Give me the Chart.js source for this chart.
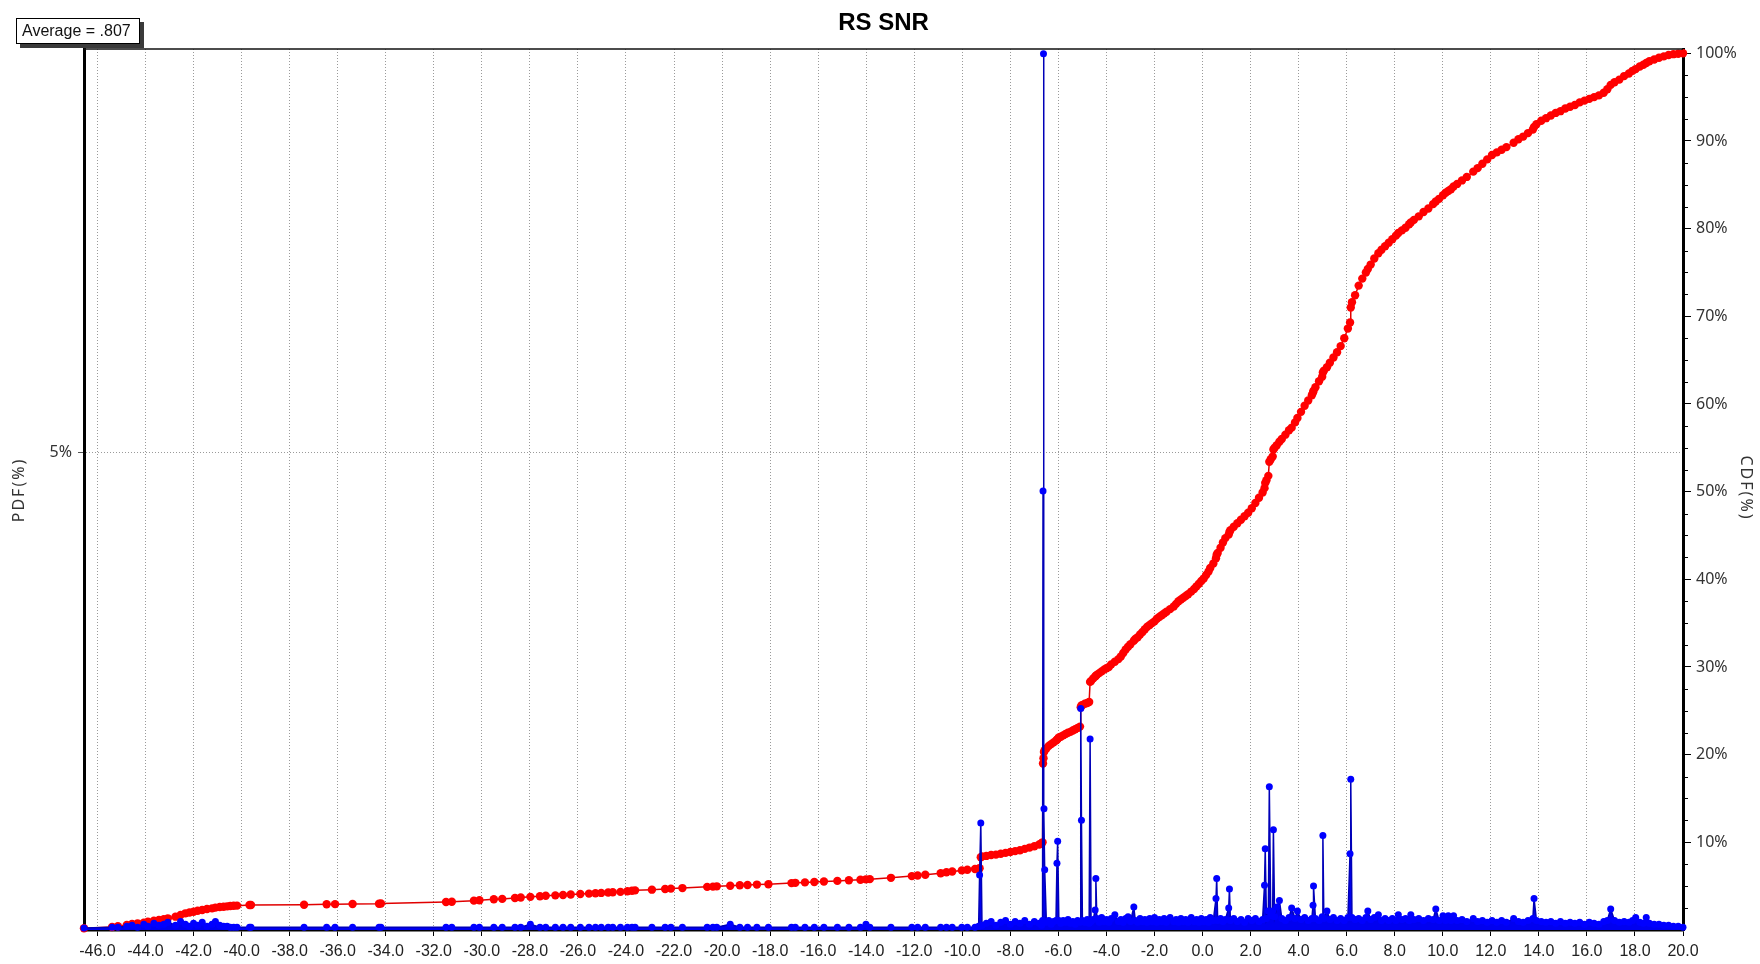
<!DOCTYPE html>
<html lang="en">
<head>
  <meta charset="UTF-8" />
  <title>RS SNR</title>
  <script src="https://cdn.jsdelivr.net/npm/chart.js"></script>
  <style>
    html, body { margin: 0; padding: 0; background: #fff; }
    canvas { display: block; }
  </style>
</head>
<body>
  <canvas id="snrChart" width="1760" height="964"></canvas>

  <script>
    // SNR bins (dB) with PDF and CDF in percent
    const snrDb = [
      -46.56, -45.39, -45.15, -44.78, -44.56, -44.33, -44.07, -43.9, -43.65, -43.44,
      -43.24, -43.07, -42.75, -42.54, -42.34, -42.17, -42.0, -41.83, -41.64, -41.44,
      -41.23, -41.09, -40.91, -40.75, -40.6, -40.47, -40.33, -40.19, -39.67, -39.61,
      -37.4, -36.46, -36.11, -35.38, -34.28, -34.2, -31.49, -31.25, -30.33, -30.1,
      -29.5, -29.15, -28.62, -28.38, -27.98, -27.58, -27.34, -26.94, -26.62, -26.3,
      -25.9, -25.54, -25.27, -25.03, -24.74, -24.55, -24.23, -23.94, -23.75, -23.62,
      -22.92, -22.37, -22.13, -21.65, -20.62, -20.38, -20.22, -19.66, -19.26, -18.94,
      -18.55, -18.07, -17.11, -16.95, -16.55, -16.16, -15.76, -15.2, -14.72, -14.24,
      -14.01, -13.85, -12.97, -12.1, -11.86, -11.54, -10.9, -10.66, -10.42, -10.02, -9.79,
      -9.47, -9.32, -9.28, -9.23, -9.18, -9.0, -8.8, -8.6, -8.4, -8.2,
      -8.0, -7.8, -7.6, -7.4, -7.2, -7.0, -6.8, -6.7, -6.66, -6.64,
      -6.62, -6.6, -6.57, -6.5, -6.4, -6.3, -6.2, -6.1, -6.06, -6.03,
      -5.98, -5.9, -5.8, -5.7, -5.6, -5.5, -5.4, -5.3, -5.2, -5.1,
      -5.07, -5.04, -5.0, -4.9, -4.8, -4.72, -4.68, -4.64, -4.55, -4.47,
      -4.44, -4.4, -4.3, -4.2, -4.1, -4.0, -3.9, -3.8, -3.65, -3.5,
      -3.4, -3.3, -3.2, -3.1, -3.0, -2.86, -2.8, -2.7, -2.6, -2.5,
      -2.4, -2.3, -2.2, -2.1, -2.0, -1.9, -1.8, -1.7, -1.6, -1.5,
      -1.35, -1.2, -1.1, -1.0, -0.9, -0.8, -0.7, -0.6, -0.47, -0.35,
      -0.25, -0.15, -0.05, 0.05, 0.15, 0.25, 0.32, 0.45, 0.56, 0.59,
      0.63, 0.75, 0.85, 0.95, 1.09, 1.12, 1.16, 1.3, 1.45, 1.6,
      1.75, 1.9, 2.05, 2.2, 2.35, 2.5, 2.58, 2.61, 2.66, 2.74,
      2.78, 2.84, 2.92, 2.95, 3.0, 3.09, 3.2, 3.3, 3.45, 3.6,
      3.71, 3.85, 3.95, 4.1, 4.25, 4.4, 4.55, 4.6, 4.62, 4.7,
      4.85, 4.98, 5.01, 5.05, 5.18, 5.3, 5.45, 5.6, 5.75, 5.9,
      6.05, 6.14, 6.17, 6.22, 6.35, 6.5, 6.65, 6.8, 6.88, 7.0,
      7.15, 7.32, 7.45, 7.6, 7.75, 7.9, 8.05, 8.15, 8.3, 8.45,
      8.6, 8.67, 8.8, 9.0, 9.2, 9.4, 9.6, 9.71, 9.85, 10.01,
      10.12, 10.23, 10.34, 10.45, 10.6, 10.8, 11.0, 11.27, 11.45, 11.65,
      11.85, 12.05, 12.25, 12.45, 12.65, 12.95, 13.15, 13.35, 13.55, 13.75,
      13.8, 13.9, 14.1, 14.3, 14.5, 14.7, 14.9, 15.1, 15.3, 15.5,
      15.7, 15.9, 16.1, 16.3, 16.5, 16.7, 16.85, 16.99, 17.15, 17.35,
      17.55, 17.75, 17.9, 18.03, 18.2, 18.35, 18.47, 18.6, 18.8, 19.0,
      19.2, 19.4, 19.6, 19.8, 20.0
    ];

    const pdfPct = [
      0.02, 0.03, 0.03, 0.04, 0.05, 0.03, 0.06, 0.04, 0.07, 0.05,
      0.06, 0.08, 0.05, 0.09, 0.06, 0.04, 0.07, 0.05, 0.08, 0.04,
      0.06, 0.09, 0.05, 0.04, 0.04, 0.03, 0.03, 0.03, 0.03, 0.03,
      0.03, 0.03, 0.03, 0.03, 0.03, 0.03, 0.03, 0.03, 0.03, 0.03,
      0.03, 0.03, 0.03, 0.03, 0.06, 0.03, 0.03, 0.03, 0.03, 0.03,
      0.03, 0.03, 0.03, 0.03, 0.03, 0.03, 0.03, 0.03, 0.03, 0.03,
      0.03, 0.03, 0.03, 0.03, 0.03, 0.03, 0.03, 0.06, 0.03, 0.03,
      0.03, 0.03, 0.03, 0.03, 0.03, 0.03, 0.03, 0.03, 0.03, 0.03,
      0.06, 0.03, 0.03, 0.03, 0.03, 0.03, 0.03, 0.03, 0.03, 0.03, 0.03,
      0.03, 0.04, 0.575, 1.12, 0.05, 0.07, 0.09, 0.05, 0.08, 0.1,
      0.06, 0.09, 0.07, 0.1, 0.06, 0.09, 0.07, 0.05, 0.1, 4.6,
      9.18, 1.27, 0.63, 0.08, 0.1, 0.06, 0.09, 0.1, 0.7, 0.93,
      0.1, 0.07, 0.1, 0.08, 0.11, 0.07, 0.09, 0.06, 0.1, 0.08,
      2.32, 1.15, 0.1, 0.08, 0.11, 0.07, 2.0, 0.09, 0.11, 0.21,
      0.54, 0.12, 0.08, 0.13, 0.09, 0.11, 0.08, 0.12, 0.16, 0.09,
      0.11, 0.08, 0.12, 0.14, 0.09, 0.24, 0.1, 0.08, 0.12, 0.09,
      0.11, 0.08, 0.12, 0.09, 0.13, 0.08, 0.11, 0.09, 0.12, 0.08,
      0.13, 0.09, 0.11, 0.08, 0.12, 0.09, 0.11, 0.08, 0.13, 0.09,
      0.11, 0.08, 0.12, 0.09, 0.11, 0.08, 0.13, 0.1, 0.33, 0.54,
      0.1, 0.12, 0.09, 0.11, 0.23, 0.43, 0.1, 0.12, 0.09, 0.11,
      0.08, 0.12, 0.1, 0.12, 0.09, 0.11, 0.47, 0.85, 0.12, 0.2,
      1.5, 0.15, 0.2, 1.05, 0.14, 0.24, 0.31, 0.12, 0.1, 0.13,
      0.23, 0.12, 0.2, 0.11, 0.13, 0.1, 0.12, 0.26, 0.46, 0.12,
      0.1, 0.14, 0.99, 0.12, 0.2, 0.11, 0.13, 0.1, 0.12, 0.1,
      0.13, 0.8, 1.58, 0.13, 0.11, 0.12, 0.1, 0.13, 0.2, 0.11,
      0.13, 0.16, 0.1, 0.12, 0.1, 0.12, 0.1, 0.16, 0.11, 0.12,
      0.1, 0.16, 0.11, 0.12, 0.1, 0.12, 0.11, 0.22, 0.1, 0.15,
      0.1, 0.15, 0.1, 0.15, 0.1, 0.11, 0.09, 0.12, 0.09, 0.1,
      0.08, 0.1, 0.08, 0.1, 0.08, 0.12, 0.09, 0.08, 0.1, 0.12,
      0.33, 0.1, 0.09, 0.08, 0.09, 0.07, 0.09, 0.07, 0.08, 0.07,
      0.08, 0.06, 0.08, 0.07, 0.06, 0.09, 0.1, 0.22, 0.1, 0.08,
      0.09, 0.08, 0.1, 0.13, 0.08, 0.07, 0.13, 0.07, 0.06, 0.06,
      0.05, 0.05, 0.04, 0.04, 0.03
    ];

    const cdfPct = [
      0.2, 0.35, 0.42, 0.57, 0.68, 0.76, 0.84, 0.95, 1.06, 1.14,
      1.22, 1.33, 1.52, 1.71, 1.9, 2.0, 2.09, 2.2, 2.28, 2.39,
      2.47, 2.55, 2.62, 2.66, 2.7, 2.74, 2.76, 2.78, 2.85, 2.86,
      2.88, 2.93, 2.95, 2.97, 3.0, 3.02, 3.2, 3.22, 3.35, 3.4,
      3.5, 3.55, 3.65, 3.7, 3.78, 3.85, 3.9, 3.95, 4.0, 4.05,
      4.1, 4.15, 4.2, 4.23, 4.28, 4.3, 4.35, 4.42, 4.48, 4.52,
      4.6, 4.68, 4.72, 4.78, 4.92, 4.95, 4.98, 5.05, 5.1, 5.14,
      5.18, 5.22, 5.35, 5.38, 5.43, 5.48, 5.53, 5.6, 5.67, 5.74,
      5.78, 5.8, 5.95, 6.15, 6.22, 6.3, 6.48, 6.58, 6.68, 6.8, 6.88,
      6.95, 7.0, 7.05, 8.3, 8.4, 8.45, 8.55, 8.6, 8.7, 8.8,
      8.9, 9.0, 9.1, 9.25, 9.4, 9.55, 9.75, 9.9, 10.0, 19.0,
      19.6, 20.3, 20.5, 20.7, 21.0, 21.2, 21.4, 21.6, 21.7, 21.8,
      21.95, 22.05, 22.2, 22.35, 22.5, 22.6, 22.75, 22.9, 23.05, 23.2,
      25.4, 25.6, 25.65, 25.8, 25.9, 26.0, 28.3, 28.4, 28.7, 28.9,
      29.0, 29.1, 29.3, 29.5, 29.7, 29.85, 30.0, 30.3, 30.6, 30.9,
      31.2, 31.6, 32.0, 32.3, 32.6, 33.0, 33.2, 33.4, 33.7, 34.0,
      34.3, 34.6, 34.8, 35.0, 35.2, 35.5, 35.7, 35.9, 36.1, 36.3,
      36.6, 36.9, 37.2, 37.5, 37.7, 37.9, 38.1, 38.3, 38.6, 38.9,
      39.2, 39.5, 39.8, 40.1, 40.5, 40.9, 41.3, 41.8, 42.4, 42.8,
      43.0, 43.6, 44.2, 44.7, 45.1, 45.4, 45.6, 46.0, 46.4, 46.8,
      47.2, 47.6, 48.1, 48.7, 49.3, 49.9, 50.4, 51.0, 51.3, 51.8,
      53.4, 53.7, 54.0, 54.8, 55.0, 55.3, 55.7, 56.0, 56.5, 57.0,
      57.3, 57.9, 58.4, 59.1, 59.8, 60.4, 61.0, 61.3, 61.5, 61.9,
      62.6, 63.1, 63.6, 63.8, 64.2, 64.7, 65.3, 65.9, 66.6, 67.5,
      68.6, 69.3, 71.0, 71.6, 72.4, 73.5, 74.3, 75.0, 75.4, 75.9,
      76.6, 77.2, 77.6, 78.0, 78.4, 78.8, 79.2, 79.5, 79.8, 80.1,
      80.5, 80.7, 81.0, 81.4, 81.9, 82.3, 82.8, 83.1, 83.4, 83.8,
      84.1, 84.3, 84.5, 84.8, 85.1, 85.5, 85.9, 86.5, 86.9, 87.4,
      87.9, 88.4, 88.7, 89.0, 89.3, 89.8, 90.2, 90.5, 90.9, 91.3,
      91.6, 91.9, 92.3, 92.6, 92.9, 93.2, 93.4, 93.7, 93.9, 94.1,
      94.4, 94.6, 94.8, 95.0, 95.2, 95.5, 95.9, 96.4, 96.7, 97.0,
      97.4, 97.7, 98.0, 98.2, 98.5, 98.7, 98.9, 99.1, 99.3, 99.5,
      99.65, 99.8, 99.9, 99.95, 100.0
    ];

    // axis ticks
    const snrTicks = [-46, -44, -42, -40, -38, -36, -34, -32, -30, -28, -26, -24, -22, -20, -18, -16,
                      -14, -12, -10, -8, -6, -4, -2, 0, 2, 4, 6, 8, 10, 12, 14, 16, 18, 20];
    const pdfTicks = [5];
    const cdfTicks = [10, 20, 30, 40, 50, 60, 70, 80, 90, 100];

    const chartTitle = "RS SNR";
    const averageText = "Average = .807";
    const pdfTitle = "PDF(%)";
    const cdfTitle = "CDF(%)";

    const SANS = '"Liberation Sans", Arial, sans-serif';
    const UI = '"Noto Sans", "DejaVu Sans", sans-serif';

    const pdfPoints = snrDb.map((x, i) => ({ x: x, y: pdfPct[i] }));
    const cdfPoints = snrDb.map((x, i) => ({ x: x, y: cdfPct[i] }));

    // frame top line, minor CDF ticks, title, axis titles, average box
    const decorations = {
      id: "decorations",
      afterDraw(chart) {
        const ctx = chart.ctx;
        const area = chart.chartArea;
        const cdfScale = chart.scales.yCdf;
        ctx.save();

        ctx.strokeStyle = "#111";
        ctx.lineWidth = 1.5;
        ctx.beginPath();
        ctx.moveTo(area.left, area.top);
        ctx.lineTo(area.right, area.top);
        ctx.stroke();

        ctx.lineWidth = 1;
        ctx.strokeStyle = "#000";
        for (let v = 2.5; v < 100; v += 2.5) {
          if (v % 10 === 0) continue;
          const y = Math.round(cdfScale.getPixelForValue(v)) + 0.5;
          ctx.beginPath();
          ctx.moveTo(area.right + 1, y);
          ctx.lineTo(area.right + 5, y);
          ctx.stroke();
        }

        ctx.fillStyle = "#000";
        ctx.font = "bold 24px " + SANS;
        ctx.textAlign = "center";
        ctx.textBaseline = "middle";
        ctx.fillText(chartTitle, (area.left + area.right) / 2, 23);

        ctx.fillStyle = "#333";
        ctx.font = "16px " + UI;
        ctx.letterSpacing = "2px";
        ctx.save();
        ctx.translate(19, 490);
        ctx.rotate(-Math.PI / 2);
        ctx.fillText(pdfTitle, 0, 0);
        ctx.restore();
        ctx.save();
        ctx.translate(1746, 488);
        ctx.rotate(Math.PI / 2);
        ctx.fillText(cdfTitle, 0, 0);
        ctx.restore();
        ctx.letterSpacing = "0px";

        ctx.fillStyle = "#3a3a3a";
        ctx.fillRect(20, 22, 124, 26);
        ctx.fillStyle = "#fff";
        ctx.fillRect(16, 18, 124, 26);
        ctx.strokeStyle = "#000";
        ctx.lineWidth = 1;
        ctx.strokeRect(16.5, 18.5, 123, 25);
        ctx.fillStyle = "#111";
        ctx.font = "16px " + SANS;
        ctx.textAlign = "left";
        ctx.fillText(averageText, 22, 32);

        ctx.restore();
      }
    };

    new Chart(document.getElementById("snrChart"), {
      type: "line",
      data: {
        datasets: [
          {
            label: "PDF",
            data: pdfPoints,
            yAxisID: "yPdf",
            borderColor: "#0000b8",
            borderWidth: 1.5,
            backgroundColor: "#0000f0",
            fill: "origin",
            pointRadius: 3.5,
            pointBorderWidth: 0,
            pointBackgroundColor: "#0000ff",
            tension: 0,
            clip: false,
            order: 0
          },
          {
            label: "CDF",
            data: cdfPoints,
            yAxisID: "yCdf",
            borderColor: "#e00000",
            borderWidth: 1.5,
            pointRadius: 4.2,
            pointBorderWidth: 0,
            pointBackgroundColor: "#ff0000",
            tension: 0,
            clip: false,
            order: 1
          }
        ]
      },
      options: {
        responsive: false,
        animation: false,
        devicePixelRatio: 1,
        layout: { padding: { top: 49, left: 0, right: 0, bottom: 0 } },
        plugins: {
          legend: { display: false },
          tooltip: { enabled: false }
        },
        scales: {
          x: {
            type: "linear",
            min: -46.56,
            max: 20,
            afterBuildTicks: s => { s.ticks = snrTicks.map(v => ({ value: v })); },
            afterFit: s => { s.height = 34; },
            ticks: {
              callback: v => v.toFixed(1),
              autoSkip: false,
              maxRotation: 0,
              padding: 6,
              color: "#222",
              font: { family: SANS, size: 16 }
            },
            grid: { color: "#9a9a9a", lineWidth: 1, tickLength: 6, tickColor: "#000" },
            border: { color: "#000", width: 3.5, dash: [1, 2] }
          },
          yPdf: {
            type: "linear",
            position: "left",
            min: 0,
            max: 9.23,
            afterBuildTicks: s => { s.ticks = pdfTicks.map(v => ({ value: v })); },
            afterFit: s => { s.width = 84; },
            ticks: {
              callback: v => v + "%",
              padding: 6,
              color: "#333",
              font: { family: UI, size: 16 }
            },
            grid: { color: "#9a9a9a", lineWidth: 1, tickLength: 6, tickColor: "#555" },
            border: { color: "#000", width: 3, dash: [1, 2] }
          },
          yCdf: {
            type: "linear",
            position: "right",
            min: 0,
            max: 100.49,
            afterBuildTicks: s => { s.ticks = cdfTicks.map(v => ({ value: v })); },
            afterFit: s => { s.width = 77; },
            ticks: {
              callback: v => v + "%",
              padding: 5,
              color: "#333",
              font: { family: UI, size: 16 }
            },
            grid: { drawOnChartArea: false, tickLength: 8, tickColor: "#000" },
            border: { color: "#000", width: 3 }
          }
        }
      },
      plugins: [decorations]
    });
  </script>
</body>
</html>
